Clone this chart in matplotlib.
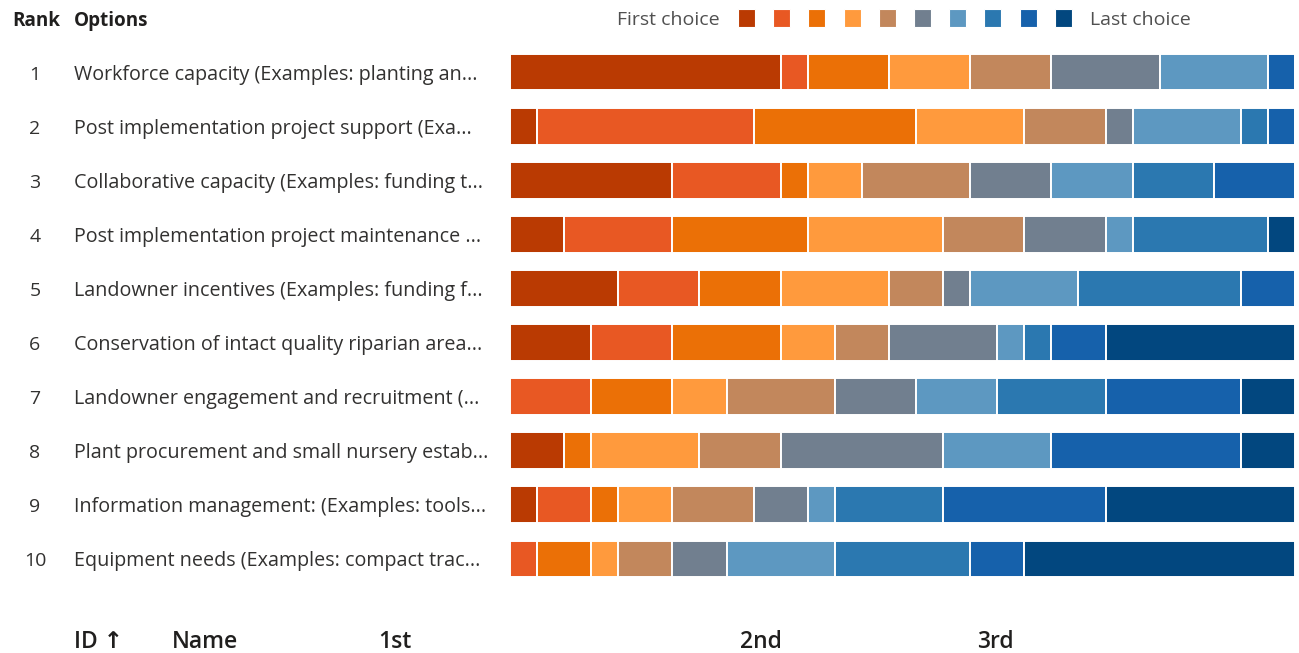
import matplotlib
matplotlib.use("Agg")
import matplotlib.pyplot as plt
import matplotlib.transforms as mtransforms
import numpy as np

plt.rcParams['font.family'] = ['Open Sans', 'DejaVu Sans']

ranks = list(range(1, 11))
options = [
    "Workforce capacity (Examples: planting an...",
    "Post implementation project support (Exa...",
    "Collaborative capacity (Examples: funding t...",
    "Post implementation project maintenance ...",
    "Landowner incentives (Examples: funding f...",
    "Conservation of intact quality riparian area...",
    "Landowner engagement and recruitment (...",
    "Plant procurement and small nursery estab...",
    "Information management: (Examples: tools...",
    "Equipment needs (Examples: compact trac...",
]

# Number of respondents placing each option at choice position 1..10
choice_counts = [
    [10, 1, 3, 3, 3, 4, 4, 0, 1, 0],
    [1, 8, 6, 4, 3, 1, 4, 1, 1, 0],
    [6, 4, 1, 2, 4, 3, 3, 3, 3, 0],
    [2, 4, 5, 5, 3, 3, 1, 5, 0, 1],
    [4, 3, 3, 4, 2, 1, 4, 6, 2, 0],
    [3, 3, 4, 2, 2, 4, 1, 1, 2, 7],
    [0, 3, 3, 2, 4, 3, 3, 4, 5, 2],
    [2, 0, 1, 4, 3, 6, 4, 0, 7, 2],
    [1, 2, 1, 2, 3, 2, 1, 4, 6, 7],
    [0, 1, 2, 1, 2, 2, 4, 5, 2, 10],
]

choice_colors = ["#BA3A02", "#E85823", "#EB7006", "#FF9A3D", "#C2875C",
                 "#717F8F", "#5D98C1", "#2B78B0", "#1661AB", "#02477F"]

column_headers = ["ID \u2191", "Name", "1st", "2nd", "3rd"]

W, H = 1299, 653
fig = plt.figure(figsize=(W / 100, H / 100), dpi=100)
fig.patch.set_facecolor("white")

ax_left, ax_right = 510, 1295
ax_top, ax_bottom = 45, 586
ax = fig.add_axes([ax_left / W, 1 - ax_bottom / H,
                   (ax_right - ax_left) / W, (ax_bottom - ax_top) / H])

counts = np.array(choice_counts, dtype=float)
y = np.arange(len(options))
left = np.zeros(len(options))
for k in range(counts.shape[1]):
    ax.barh(y, counts[:, k], left=left, height=0.68, color=choice_colors[k],
            edgecolor="white", linewidth=1.4)
    left += counts[:, k]

ax.set_xlim(0, counts.sum(axis=1).max())
ax.set_ylim(len(options) - 0.5, -0.5)
ax.axis("off")

text_color = "#323130"
row_tf = mtransforms.blended_transform_factory(fig.transFigure, ax.transData)
row_tf = mtransforms.offset_copy(row_tf, fig=fig, y=-2.5, units="dots")
for i, (r, opt) in enumerate(zip(ranks, options)):
    fig.text(35 / W, i, str(r), transform=row_tf, ha="center", va="center",
             fontsize=14, color=text_color)
    fig.text(74 / W, i, opt, transform=row_tf, ha="left", va="center",
             fontsize=14.2, color=text_color)

# Header row
fig.text(12 / W, 1 - 21 / H, "Rank", ha="left", va="center", fontsize=13.6,
         fontweight="bold", color="#201F1E")
fig.text(74 / W, 1 - 21 / H, "Options", ha="left", va="center", fontsize=13.6,
         fontweight="bold", color="#201F1E")

# Colour key
fig.text(720 / W, 1 - 20 / H, "First choice", ha="right", va="center",
         fontsize=14, color="#505050")
sq = 17
for k, c in enumerate(choice_colors):
    x0 = 738 + k * 35.2
    fig.patches.append(plt.Rectangle((x0 / W, 1 - (18 + sq / 2) / H), sq / W, sq / H,
                                     transform=fig.transFigure, facecolor=c,
                                     edgecolor="white", linewidth=0.8))
fig.text(1090 / W, 1 - 20 / H, "Last choice", ha="left", va="center",
         fontsize=14, color="#505050")

# Table column headers below the chart
header_x = [74, 172, 378, 740, 977]
for hx, label in zip(header_x, column_headers):
    fig.text(hx / W, 1 - 642 / H, label, ha="left", va="center", fontsize=16.5,
             fontweight="semibold", color="#201F1E")

fig.savefig("out.png", dpi=100, facecolor="white")
